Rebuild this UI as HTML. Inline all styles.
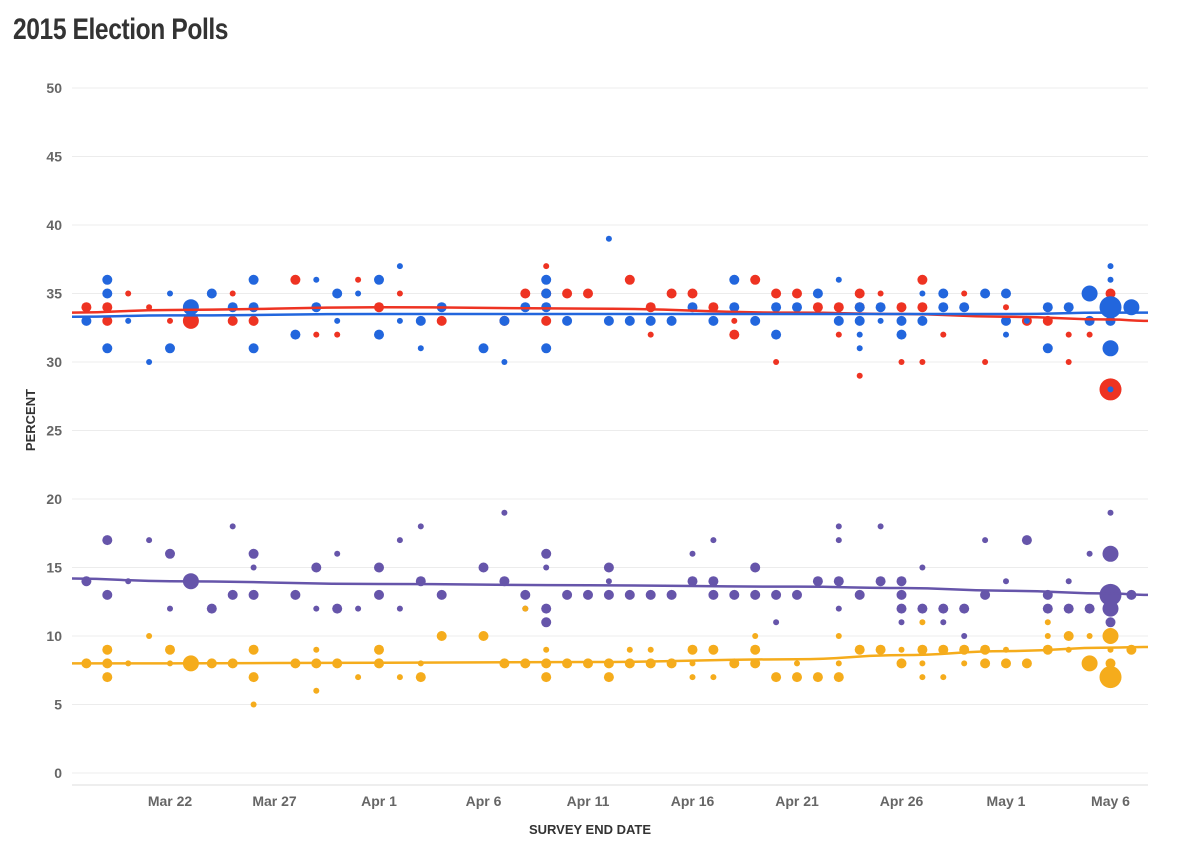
<!DOCTYPE html>
<html><head><meta charset="utf-8"><style>
body{margin:0;background:#fff;width:1200px;height:862px;overflow:hidden;font-family:"Liberation Sans Narrow","Liberation Sans",sans-serif}
#title{position:absolute;left:13px;top:13px;font-size:30px;font-weight:bold;color:#333;letter-spacing:-0.5px;transform:scaleX(0.82);transform-origin:0 0;white-space:nowrap}
</style></head><body>
<div id="title">2015 Election Polls</div>
<svg id="chart" width="1200" height="862" style="position:absolute;left:0;top:0"></svg>
<script>
const yTicks=[0,5,10,15,20,25,30,35,40,45,50];
const xTickLabels=["Mar 22","Mar 27","Apr 1","Apr 6","Apr 11","Apr 16","Apr 21","Apr 26","May 1","May 6"];
const xTickDays=[0,5,10,15,20,25,30,35,40,45];
// points: [day offset from Mar 22, percent, size class]
const conPoints=[[-4,33,2],[-3,35,2],[-3,36,2],[-3,31,2],[-2,33,1],[-1,30,1],[0,31,2],[0,35,1],[1,34,3],[2,35,2],[3,34,2],[4,36,2],[4,34,2],[4,31,2],[6,32,2],[7,36,1],[7,34,2],[8,33,1],[8,35,2],[9,35,1],[10,36,2],[10,32,2],[11,37,1],[11,33,1],[12,33,2],[12,31,1],[13,34,2],[15,31,2],[16,33,2],[16,30,1],[17,34,2],[18,35,2],[18,36,2],[18,34,2],[18,31,2],[19,33,2],[21,39,1],[21,33,2],[22,33,2],[23,33,2],[24,33,2],[25,34,2],[26,33,2],[27,34,2],[27,36,2],[28,33,2],[29,32,2],[29,34,2],[30,34,2],[31,35,2],[32,36,1],[32,33,2],[33,34,2],[33,33,2],[33,32,1],[33,31,1],[34,34,2],[34,33,1],[35,33,2],[35,32,2],[36,33,2],[36,35,1],[37,35,2],[37,34,2],[38,34,2],[39,35,2],[40,35,2],[40,33,2],[40,32,1],[41,33,1],[42,34,2],[42,31,2],[43,34,2],[44,33,2],[44,35,3],[45,34,4],[45,33,2],[45,31,3],[45,37,1],[45,36,1],[45,28,1],[46,34,3]];
const labPoints=[[-4,34,2],[-3,34,2],[-3,33,2],[-2,35,1],[-1,34,1],[0,33,1],[1,33,3],[3,35,1],[3,33,2],[4,34,1],[4,33,2],[6,36,2],[7,32,1],[8,32,1],[9,36,1],[10,34,2],[11,35,1],[13,33,2],[16,33,2],[17,35,2],[18,35,2],[18,33,2],[18,37,1],[19,35,2],[20,35,2],[22,36,2],[23,32,1],[23,34,2],[24,35,2],[25,35,2],[26,34,2],[27,32,2],[27,33,1],[28,36,2],[29,30,1],[29,35,2],[30,35,2],[31,34,2],[32,34,2],[32,32,1],[33,35,2],[33,34,2],[33,29,1],[34,35,1],[35,34,2],[35,30,1],[36,34,2],[36,36,2],[36,30,1],[37,34,1],[37,32,1],[38,35,1],[39,30,1],[40,34,1],[41,33,2],[42,33,2],[43,30,1],[43,32,1],[44,32,1],[44,33,1],[45,28,4],[45,35,2]];
const ldPoints=[[-4,14,2],[-3,17,2],[-3,13,2],[-2,14,1],[-1,17,1],[0,16,2],[0,12,1],[1,14,3],[2,12,2],[3,18,1],[3,13,2],[4,16,2],[4,15,1],[4,13,2],[6,13,2],[7,15,2],[7,12,1],[8,16,1],[8,12,2],[9,12,1],[10,15,2],[10,13,2],[11,17,1],[11,12,1],[12,18,1],[12,14,2],[13,13,2],[15,15,2],[16,19,1],[16,14,2],[17,13,2],[17,12,1],[18,16,2],[18,15,1],[18,12,2],[18,11,2],[19,13,2],[20,13,2],[21,15,2],[21,14,1],[21,13,2],[22,13,2],[23,13,2],[24,13,2],[25,14,2],[25,16,1],[26,17,1],[26,14,2],[26,13,2],[27,13,2],[28,15,2],[28,13,2],[29,13,2],[29,11,1],[30,13,2],[31,14,2],[32,14,2],[32,18,1],[32,17,1],[32,12,1],[33,13,2],[34,14,2],[34,18,1],[35,13,2],[35,11,1],[35,12,2],[35,14,2],[36,12,2],[36,15,1],[37,12,2],[37,11,1],[38,12,2],[38,10,1],[39,17,1],[39,13,2],[40,14,1],[41,17,2],[42,13,2],[42,12,2],[43,14,1],[43,12,2],[44,16,1],[44,12,2],[45,13,4],[45,16,3],[45,19,1],[45,12,3],[45,11,2],[46,13,2]];
const ukipPoints=[[-4,8,2],[-3,9,2],[-3,8,2],[-3,7,2],[-2,8,1],[-1,10,1],[0,9,2],[0,8,1],[1,8,3],[2,8,2],[3,8,2],[4,9,2],[4,7,2],[4,5,1],[6,8,2],[7,9,1],[7,6,1],[7,8,2],[8,8,2],[9,7,1],[10,9,2],[10,8,2],[11,7,1],[12,8,1],[12,7,2],[13,10,2],[15,10,2],[16,8,2],[17,12,1],[17,8,2],[18,9,1],[18,8,2],[18,7,2],[19,8,2],[20,8,2],[21,8,2],[21,7,2],[22,9,1],[22,8,2],[23,8,2],[23,9,1],[24,8,2],[25,9,2],[25,8,1],[25,7,1],[26,9,2],[26,7,1],[27,8,2],[28,9,2],[28,10,1],[28,8,2],[29,7,2],[30,8,1],[30,7,2],[31,7,2],[32,10,1],[32,8,1],[32,7,2],[33,9,2],[34,9,2],[35,9,1],[35,8,2],[36,9,2],[36,11,1],[36,8,1],[36,7,1],[37,9,2],[37,7,1],[38,9,2],[38,8,1],[39,9,2],[39,8,2],[40,9,1],[40,8,2],[41,8,2],[42,11,1],[42,10,1],[42,9,2],[43,10,2],[43,9,1],[44,10,1],[44,8,3],[45,10,3],[45,7,4],[45,8,2],[45,9,1],[46,9,2]];
const trendDays=[-5,0,10,20,30,35,40,45,47];
const conTrend=[33.3,33.4,33.5,33.5,33.5,33.5,33.5,33.6,33.6];
const labTrend=[33.6,33.8,34.0,33.9,33.6,33.5,33.3,33.1,33.0];
const ldTrend=[14.2,14.0,13.8,13.7,13.6,13.5,13.3,13.1,13.0];
const ukipTrend=[8.0,8.0,8.05,8.1,8.3,8.6,8.9,9.15,9.2];

const L=72,R=1148,Y0=773,Y50=88,D0=170,PX=20.9;
const sx=d=>D0+d*PX, sy=v=>Y0+(Y50-Y0)*v/50;
const svg=document.getElementById('chart'),NS='http://www.w3.org/2000/svg';
function mk(t,a,p){const e=document.createElementNS(NS,t);for(const k in a)e.setAttribute(k,a[k]);(p||svg).appendChild(e);return e;}
yTicks.forEach(v=>{
 const g=mk('line',{x1:L,x2:R,y1:sy(v),y2:sy(v),stroke:'#ececec','stroke-width':1});
 
 
 const t=mk('text',{x:62,y:sy(v)+5,'text-anchor':'end','font-size':14,'font-weight':'bold',fill:'#666'});
 t.textContent=v;
 
 
});
const ax=mk('line',{x1:L,x2:R,y1:785,y2:785,stroke:'#ddd'});


xTickLabels.forEach((s,i)=>{
 const t=mk('text',{x:sx(xTickDays[i]),y:806,'text-anchor':'middle','font-size':14,'font-weight':'bold',fill:'#666'});
 t.textContent=s;
 
 
});
const yt=mk('text',{transform:'translate(35,420) rotate(-90)','text-anchor':'middle','font-size':13,'font-weight':'bold',fill:'#333'});
yt.textContent='PERCENT';


const xt=mk('text',{x:590,y:834,'text-anchor':'middle','font-size':13,'font-weight':'bold',fill:'#333'});
xt.textContent='SURVEY END DATE';


const R_=[0,3,5,8,11];
const series=[['labour',labPoints,labTrend,'#ee3322'],['conservative',conPoints,conTrend,'#2266dd'],['libdem',ldPoints,ldTrend,'#6655aa'],['ukip',ukipPoints,ukipTrend,'#f5ac1c']];
series.forEach(([n,pts,tr,c])=>{
 pts.forEach(p=>{
  const e=mk('circle',{cx:sx(p[0]),cy:sy(p[1]),r:R_[p[2]],fill:c});
  
  
 });
});
series.forEach(([n,pts,tr,c])=>{
 const d=trendDays.map((x,i)=>[Math.max(L,Math.min(R,sx(x))),sy(tr[i])]);
 let s='M'+d[0][0]+','+d[0][1];
 for(let i=1;i<d.length;i++){const mx=(d[i-1][0]+d[i][0])/2;s+=` C${mx},${d[i-1][1]} ${mx},${d[i][1]} ${d[i][0]},${d[i][1]}`;}
 const e=mk('path',{d:s,fill:'none',stroke:c,'stroke-width':2.5});
 
 
});
</script>
</body></html>
